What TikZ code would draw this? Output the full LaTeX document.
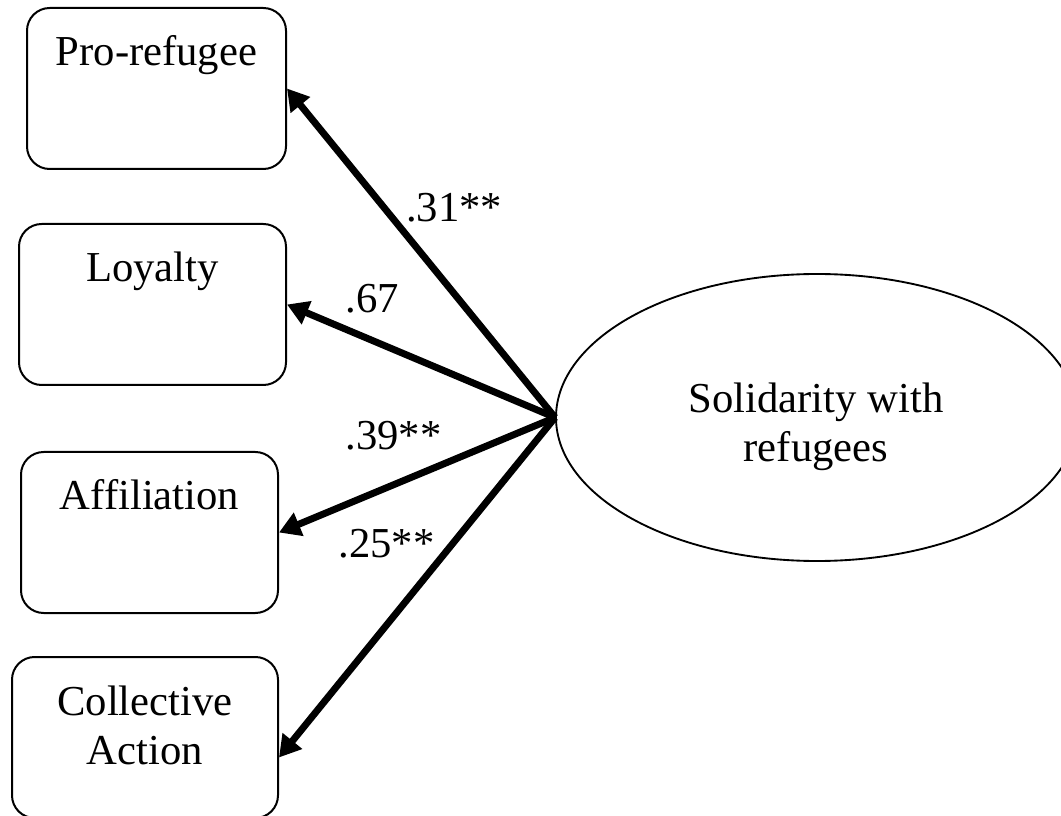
\documentclass[tikz,border=0pt]{standalone}
\usepackage{fontspec}
\setmainfont{Liberation Serif}
\usetikzlibrary{arrows.meta,shapes.geometric}

\begin{document}
\begin{tikzpicture}[x=0.75pt, y=-0.75pt,
  every node/.style={font=\fontsize{32}{36.75}\selectfont},
  ind/.style={draw, line width=1.5pt, rounded corners=17pt, anchor=north,
    inner sep=0pt, text height=43.5pt, text depth=77.25pt, align=center},
  lat/.style={draw, ellipse, line width=1.4pt, inner sep=0pt,
    minimum width=391.5pt, minimum height=215.25pt},
  load/.style={-{Triangle[length=16pt,width=18pt]}, line width=5.2pt},
  coef/.style={anchor=base}]
\useasboundingbox (0,0) rectangle (1061,816);
% indicators
\node[ind, minimum width=194.25pt] (pro) at (156.5,7) {Pro-refugee};
\node[ind, minimum width=200.25pt] (loy) at (152.5,223) {Loyalty};
\node[ind, minimum width=192.75pt] (aff) at (149.5,451) {Affiliation};
\node[ind, minimum width=199.5pt, text height=80.25pt, text depth=40.5pt]
  (coll) at (145,656) {Collective\\Action};
% latent factor
\node[lat] (sol) at (817,417.5) {};
\node[align=center] (soltxt) at (816,427) {Solidarity with\\refugees};
% loadings
\draw[load] (sol.west) -- (pro.east);
\draw[load] (sol.west) -- (loy.east);
\draw[load] (sol.west) -- (aff.east);
\draw[load] (sol.west) -- ([yshift=-15pt]coll.east);
\node[coef] (w1) at (454,222) {.31**};
\node[coef] (w2) at (372.5,313) {.67};
\node[coef] (w3) at (393.5,450) {.39**};
\node[coef] (w4) at (386.5,558) {.25**};
\end{tikzpicture}
\end{document}
